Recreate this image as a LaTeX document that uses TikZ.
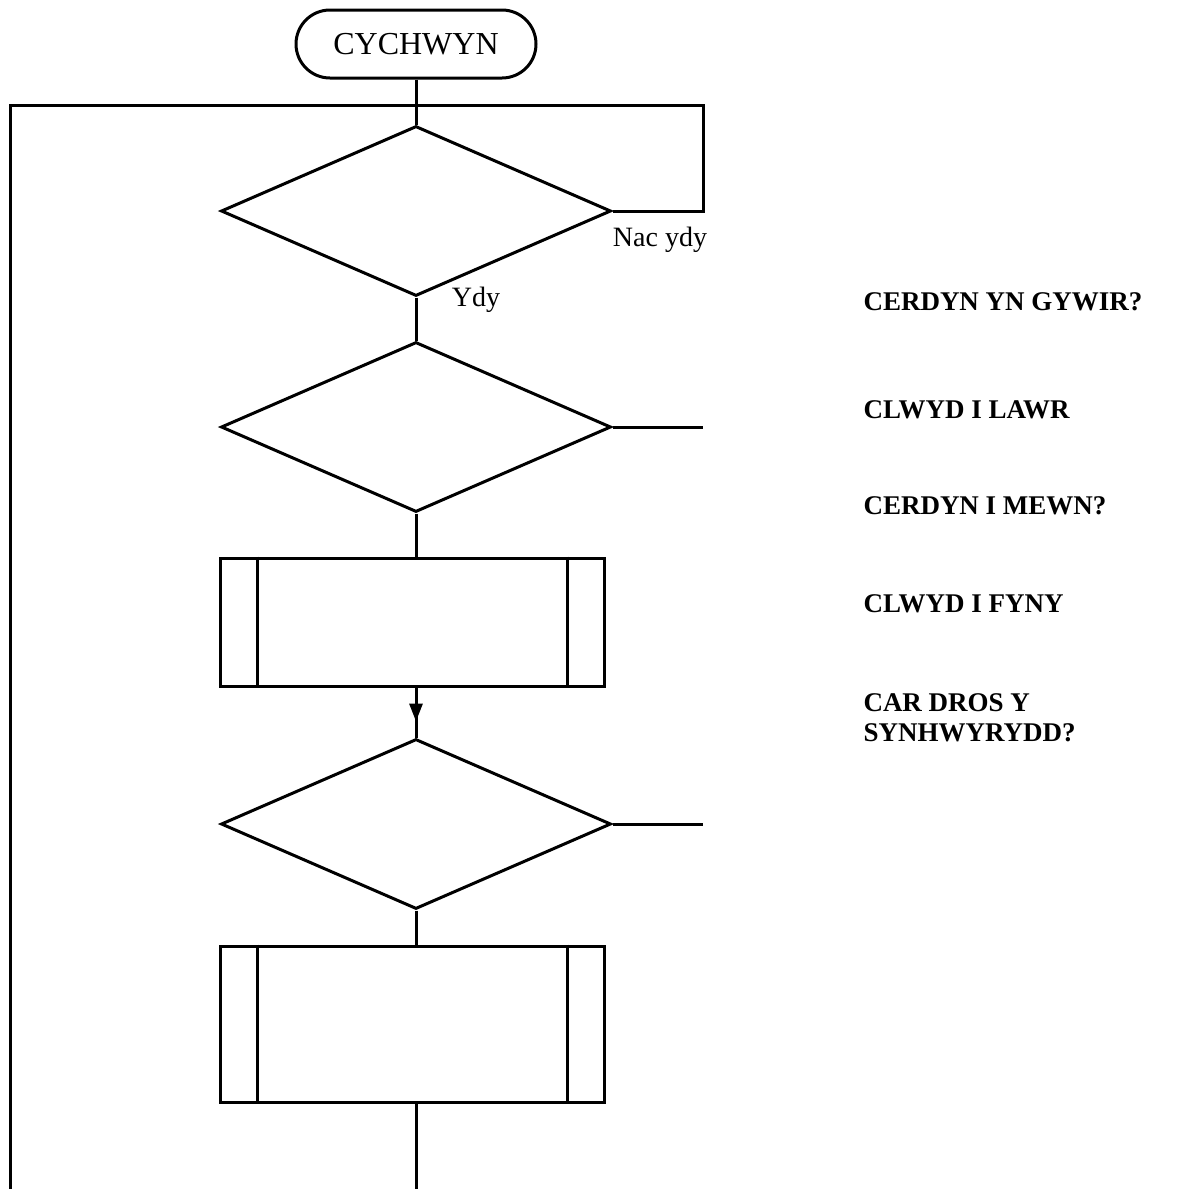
\documentclass[tikz,border=0pt]{standalone}
\usepackage{fontspec}
\setmainfont{Liberation Serif}
\usetikzlibrary{shapes.geometric,arrows.meta,decorations.markings}
\begin{document}
\begin{tikzpicture}[x=0.5pt,y=-0.5pt,line width=1.5pt,
  decision/.style={draw,diamond,minimum width=195pt,minimum height=85pt,inner sep=0pt},
  procbox/.style={draw,rectangle,minimum width=192pt,inner sep=0pt},
  termbox/.style={draw,rectangle,rounded corners=17pt,minimum width=120pt,minimum height=34pt,inner sep=0pt,font=\fontsize{16}{19}\selectfont},
  lbl/.style={font=\fontsize{14}{17}\selectfont,inner sep=0pt},
  side/.style={font=\fontsize{13.5}{15}\selectfont\bfseries,anchor=west,align=left,inner sep=0pt}]
\useasboundingbox (0,0) rectangle (1183,1189);
\node[termbox] (start) at (416,44) {CYCHWYN};
\node[decision] (d1) at (416,211) {};
\node[decision] (d2) at (416,427) {};
\node[procbox,minimum height=64pt] (p1) at (412,622) {};
\node[decision] (d3) at (416,824) {};
\node[procbox,minimum height=78pt] (p2) at (412,1024) {};
\draw ([xshift=19.5pt]p1.north west) -- ([xshift=19.5pt]p1.south west);
\draw ([xshift=-19pt]p1.north east) -- ([xshift=-19pt]p1.south east);
\draw ([xshift=19.5pt]p2.north west) -- ([xshift=19.5pt]p2.south west);
\draw ([xshift=-19pt]p2.north east) -- ([xshift=-19pt]p2.south east);
\coordinate (ltop) at (10,105);
\coordinate (lbot) at (10,1189);
\coordinate (rtop) at (703,105);
\coordinate (r2) at (703,427);
\coordinate (r3) at (703,824);
\coordinate (bot) at (416,1189);
\draw (start.south) -- (d1.north);
\draw (lbot) -- (ltop) -- (rtop) |- (d1.east);
\draw (d1.south) -- (d2.north);
\draw (d2.east) -- (r2);
\draw (d2.south) -- (p1.north -| d2.south);
\draw[decoration={markings,mark=at position 0.68 with {\arrow{Triangle[length=9pt,width=6.5pt]}}},postaction={decorate}] (p1.south -| d3.north) -- (d3.north);
\draw (d3.east) -- (r3);
\draw (d3.south) -- (p2.north -| d3.south);
\draw (p2.south -| bot) -- (bot);
\node[lbl] (nac) at (660,240) {Nac ydy};
\node[lbl] (ydy) at (476,300) {Ydy};
\node[side] (s1) at (862,302) {CERDYN YN GYWIR?};
\node[side] (s2) at (862,410) {CLWYD I LAWR};
\node[side] (s3) at (862,506) {CERDYN I MEWN?};
\node[side] (s4) at (862,604) {CLWYD I FYNY};
\node[side] (s5) at (862,718) {CAR DROS Y\\SYNHWYRYDD?};
\end{tikzpicture}
\end{document}
